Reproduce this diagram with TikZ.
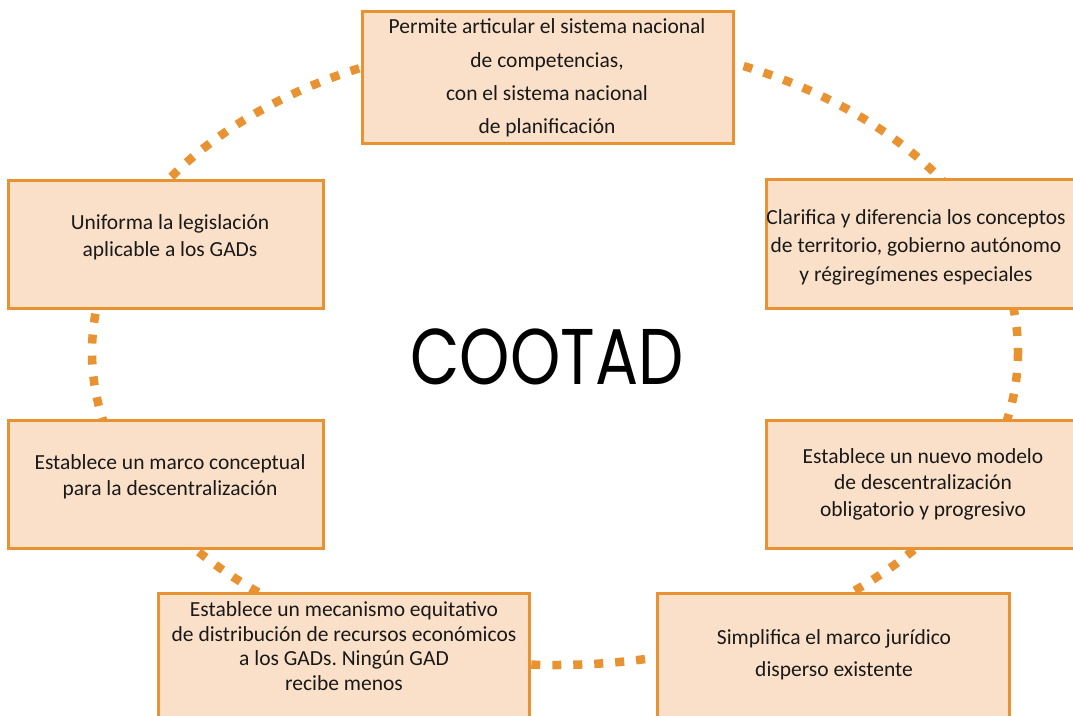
\documentclass[tikz,border=0pt]{standalone}
\usepackage{fontspec}
\setmainfont{Carlito}
\newfontfamily\titlefont{Poppins}
\definecolor{orangeC}{RGB}{232,146,50}
\definecolor{peachC}{RGB}{250,224,200}
\frenchspacing
\begin{document}
\begin{tikzpicture}[x=1pt,y=-1pt,
  boxstyle/.style={draw=orangeC, line width=3pt, fill=peachC, inner sep=0pt},
  txt/.style={align=center, inner sep=0pt, text=black!90},
  ring/.style={draw=orangeC, line width=8.5pt, dash pattern=on 9pt off 12pt}]
\useasboundingbox (0,0) rectangle (1073,715);
\clip (0,0) rectangle (1073,715);
\fill[white] (0,0) rectangle (1073,715);
% dashed ring
\draw[ring] (555,352) ellipse [x radius=463, y radius=313];
% boxes
\node[boxstyle, minimum width=371pt, minimum height=132pt] (top) at (547.5,77) {};
\node[boxstyle, minimum width=330pt, minimum height=129pt] (ru) at (931,243.5) {};
\node[boxstyle, minimum width=315pt, minimum height=128pt] (lu) at (165.5,244) {};
\node[boxstyle, minimum width=315pt, minimum height=128pt] (ll) at (165.5,484) {};
\node[boxstyle, minimum width=330pt, minimum height=128pt] (rl) at (931,484) {};
\node[boxstyle, minimum width=371pt, minimum height=160pt] (bl) at (343.5,673) {};
\node[boxstyle, minimum width=352pt, minimum height=160pt] (br) at (833,673) {};
% texts
\node[txt, font=\fontsize{21.5}{33.3}\selectfont] (ttop) at (547,78)
  {Permite articular el sistema nacional\\de competencias,\\con el sistema nacional\\de planificación};
\node[txt, font=\fontsize{21.5}{28.5}\selectfont] (tru) at (916,247)
  {Clarifica y diferencia los conceptos\\de territorio, gobierno autónomo\\y régiregímenes especiales};
\node[txt, font=\fontsize{21.5}{27}\selectfont] (tlu) at (170,237)
  {Uniforma la legislación\\aplicable a los GADs};
\node[txt, font=\fontsize{21.5}{26}\selectfont] (tll) at (170,477)
  {Establece un marco conceptual\\para la descentralización};
\node[txt, font=\fontsize{21.5}{26.5}\selectfont] (trl) at (923,484)
  {Establece un nuevo modelo\\de descentralización\\obligatorio y progresivo};
\node[txt, font=\fontsize{21.5}{24.7}\selectfont] (tbl) at (344,646)
  {Establece un mecanismo equitativo\\de distribución de recursos económicos\\a los GADs. Ningún GAD\\recibe menos};
\node[txt, font=\fontsize{21.5}{32}\selectfont] (tbr) at (834,655)
  {Simplifica el marco jurídico\\disperso existente};
% title
\node[inner sep=0pt, font=\titlefont\fontsize{79}{79}\selectfont] (title) at (547,357)
  {\scalebox{0.81}[1]{COOTAD}};
\end{tikzpicture}
\end{document}
